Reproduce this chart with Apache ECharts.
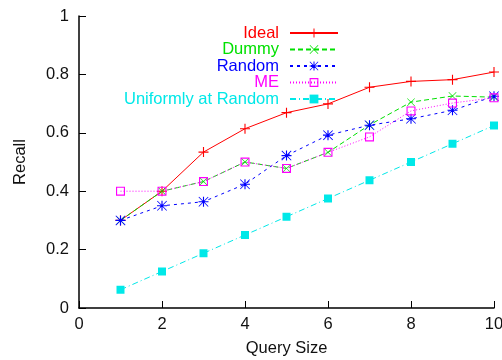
<!DOCTYPE html>
<html>
<head>
<meta charset="utf-8">
<script src="https://cdn.jsdelivr.net/npm/echarts@6/dist/echarts.min.js"></script>
<style>
  html, body { margin: 0; padding: 0; background: #fff; }
  #chart { width: 502px; height: 360px; }
</style>
</head>
<body>
<div id="chart"></div>
<script>
// data
var querySize = [1, 2, 3, 4, 5, 6, 7, 8, 9, 10];
var ideal   = [0.3, 0.4, 0.534, 0.614, 0.669, 0.699, 0.756, 0.776, 0.782, 0.808];
var dummy   = [0.3, 0.4, 0.433, 0.5, 0.478, 0.533, 0.627, 0.705, 0.726, 0.722];
var random  = [0.3, 0.35, 0.364, 0.424, 0.522, 0.592, 0.626, 0.648, 0.677, 0.725];
var me      = [0.4, 0.4, 0.433, 0.5, 0.478, 0.533, 0.586, 0.675, 0.702, 0.72];
var uniform = [0.0625, 0.125, 0.1875, 0.25, 0.3125, 0.375, 0.4375, 0.5, 0.5625, 0.625];

var names = ['Ideal', 'Dummy', 'Random', 'ME', 'Uniformly at Random'];
var colors = ['#ff0000', '#00e000', '#0000ff', '#ff00ff', '#00e8e8'];

// marker shapes (gnuplot like)
var plusPath = 'path://M8,0h2v8h8v2h-8v8h-2v-8h-8v-2h8z';
var crossPath = 'path://M0,1L1,0L9,8L17,0L18,1L10,9L18,17L17,18L9,10L1,18L0,17L8,9Z';
var starPath = 'path://M8,0h2v8h8v2h-8v8h-2v-8h-8v-2h8z M0,1L1,0L9,8L17,0L18,1L10,9L18,17L17,18L9,10L1,18L0,17L8,9Z';
// hollow square, inner part wound the other way
var boxPath = 'path://M0,0H16V16H0Z M2,2V14H14V2Z';

function pairs(ys) {
    return querySize.map(function (x, i) { return [x, ys[i]]; });
}

var font = 'Liberation Sans';
var fs = 16.5;
var myChart = echarts.init(document.getElementById('chart'));

var seriesDefs = [
    { data: ideal, symbol: plusPath, size: 10, type: 'solid' },
    { data: dummy, symbol: crossPath, size: 8, type: [5, 3] },
    { data: random, symbol: starPath, size: 10, type: [3, 4] },
    { data: me, symbol: boxPath, size: 9, type: [1, 2] },
    { data: uniform, symbol: 'rect', size: 8, type: [6, 3, 1, 3] }
];

var series = seriesDefs.map(function (d, i) {
    return {
        name: names[i],
        type: 'line',
        data: pairs(d.data),
        symbol: d.symbol,
        symbolSize: d.size,
        showAllSymbol: true,
        animation: false,
        itemStyle: {
            color: colors[i],
            borderWidth: 0
        },
        lineStyle: {
            color: colors[i],
            width: 1,
            type: d.type
        },
        emphasis: { disabled: true }
    };
});

// one legend per row so the samples line up on the right
var legendTops = [24.5, 41, 57.5, 74, 90.5];
var legends = names.map(function (n, i) {
    return {
        data: [n],
        right: 163,
        top: legendTops[i],
        padding: 0,
        align: 'right',
        itemWidth: 48,
        itemHeight: 11,
        selectedMode: false,
        textStyle: {
            fontFamily: font,
            fontSize: fs,
            color: colors[i],
            lineHeight: 16,
            padding: [0, 6, 0, 0]
        }
    };
});

var option = {
    backgroundColor: '#fff',
    animation: false,
    legend: legends,
    grid: {
        left: 79,
        right: 8,
        top: 16,
        bottom: 52,
        outerBoundsMode: 'none'
    },
    xAxis: {
        type: 'value',
        min: 0,
        max: 10,
        interval: 2,
        name: 'Query Size',
        nameLocation: 'middle',
        nameGap: 32,
        nameTextStyle: { fontFamily: font, fontSize: fs, color: '#111' },
        axisLine: { lineStyle: { color: '#000', width: 1.5 } },
        axisTick: { inside: true, length: 7, lineStyle: { color: '#000', width: 1 } },
        axisLabel: { fontFamily: font, fontSize: fs, color: '#111', margin: 8 },
        splitLine: { show: false }
    },
    yAxis: {
        type: 'value',
        min: 0,
        max: 1,
        interval: 0.2,
        name: 'Recall',
        nameLocation: 'middle',
        nameRotate: 90,
        nameGap: 50,
        nameTextStyle: { fontFamily: font, fontSize: fs, color: '#111' },
        axisLine: { show: true, lineStyle: { color: '#000', width: 1.5 } },
        axisTick: { show: true, inside: true, length: 7, lineStyle: { color: '#000', width: 1 } },
        axisLabel: { fontFamily: font, fontSize: fs, color: '#111', margin: 10 },
        splitLine: { show: false }
    },
    series: series
};

myChart.setOption(option);
window.addEventListener('resize', function () {
    myChart.resize();
});
</script>
</body>
</html>
